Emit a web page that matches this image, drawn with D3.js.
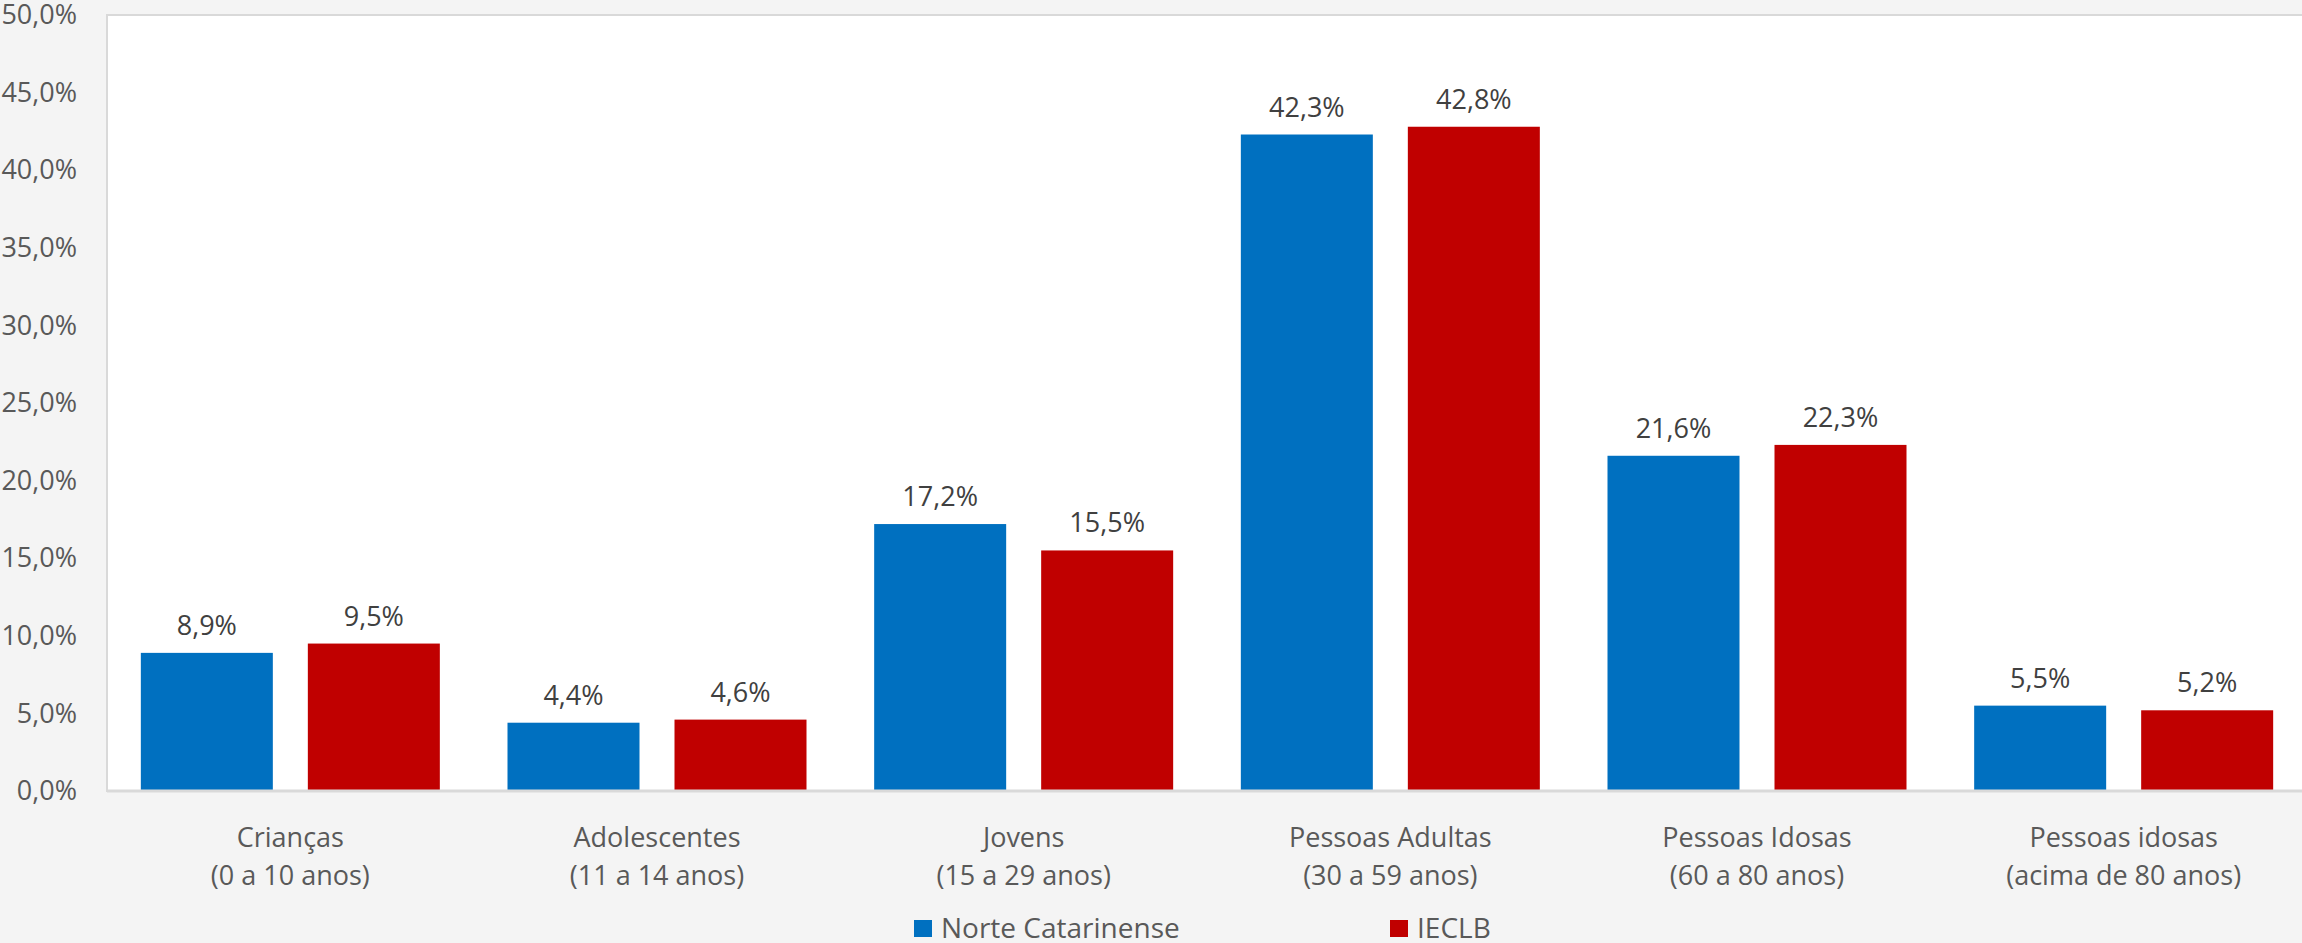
<!DOCTYPE html>
<html>
<head>
<meta charset="utf-8">
<script src="https://cdn.jsdelivr.net/npm/d3@7"></script>
<style>
  html, body { margin: 0; padding: 0; background: #f4f4f4; }
  svg { display: block; }
  text { font-family: "Open Sans", "Noto Sans", sans-serif; }
</style>
</head>
<body>
<svg id="chart" width="2302" height="943"></svg>
<script>
const categories = [
  ["Crianças", "(0 a 10 anos)"],
  ["Adolescentes", "(11 a 14 anos)"],
  ["Jovens", "(15 a 29 anos)"],
  ["Pessoas Adultas", "(30 a 59 anos)"],
  ["Pessoas Idosas", "(60 a 80 anos)"],
  ["Pessoas idosas", "(acima de 80 anos)"]
];
const seriesNames = ["Norte Catarinense", "IECLB"];
const norteCatarinense = [8.9, 4.4, 17.2, 42.3, 21.6, 5.5];
const ieclb = [9.5, 4.6, 15.5, 42.8, 22.3, 5.2];
const colors = ["#0070C0", "#C00000"];
const yTicks = [0, 5, 10, 15, 20, 25, 30, 35, 40, 45, 50];

const W = 2302, H = 943;
const m = { left: 107, right: -5, top: 15, bottom: 152 };
const svg = d3.select("#chart");
const fmt = v => d3.format(".1f")(v).replace(".", ",") + "%";

const x0 = d3.scaleBand().domain(d3.range(categories.length))
  .range([m.left, W - m.right]).paddingInner(0).paddingOuter(0);
const cw = x0.bandwidth();
const barW = 132, gap = 35;
const inner = (cw - (2 * barW + gap)) / 2;
const x1 = d3.scaleBand().domain([0, 1])
  .range([inner, cw - inner]).paddingInner(gap / (barW + gap)).paddingOuter(0);
const y = d3.scaleLinear().domain([0, 50]).range([H - m.bottom, m.top]);

// plot area
svg.append("rect")
  .attr("x", m.left).attr("y", m.top)
  .attr("width", W - m.right - m.left).attr("height", y(0) - m.top)
  .attr("fill", "#ffffff").attr("stroke", "#d9d9d9").attr("stroke-width", 2);

// y axis
const yAxis = d3.axisLeft(y).tickValues(yTicks).tickSize(0).tickPadding(0)
  .tickFormat(d => fmt(d));
const gy = svg.append("g").attr("transform", `translate(${m.left - 30},0)`).call(yAxis);
gy.select(".domain").remove();
gy.selectAll("text").attr("font-size", 27).attr("fill", "#595959")
  .attr("font-family", '"Open Sans", sans-serif');

// bars
const data = [norteCatarinense, ieclb];
const groups = svg.append("g").selectAll("g")
  .data(categories).join("g")
  .attr("transform", (d, i) => `translate(${x0(i)},0)`);

groups.each(function (c, i) {
  const g = d3.select(this);
  data.forEach((s, k) => {
    g.append("rect")
      .attr("x", x1(k)).attr("width", x1.bandwidth())
      .attr("y", y(s[i])).attr("height", y(0) - y(s[i]))
      .attr("fill", colors[k]);
    g.append("text")
      .attr("x", x1(k) + x1.bandwidth() / 2)
      .attr("y", y(s[i]) - 18)
      .attr("text-anchor", "middle")
      .attr("font-size", 27).attr("fill", "#404040")
      .text(fmt(s[i]));
  });
});

// baseline
svg.append("line")
  .attr("x1", m.left).attr("x2", W).attr("y1", y(0)).attr("y2", y(0))
  .attr("stroke", "#d9d9d9").attr("stroke-width", 3);

// x axis labels
const xAxis = d3.axisBottom(x0).tickSize(0).tickFormat("");
const gx = svg.append("g").attr("transform", `translate(0,${y(0)})`).call(xAxis);
gx.select(".domain").remove();
gx.selectAll(".tick").each(function (d) {
  const t = d3.select(this).append("text")
    .attr("text-anchor", "middle").attr("font-size", 27).attr("fill", "#595959");
  t.append("tspan").attr("x", 0).attr("y", 56).text(categories[d][0]);
  t.append("tspan").attr("x", 0).attr("y", 94).text(categories[d][1]);
});

// legend
const legendX = [914, 1390];
const lg = svg.append("g");
seriesNames.forEach((n, k) => {
  lg.append("rect").attr("x", legendX[k]).attr("y", 920)
    .attr("width", 18).attr("height", 17).attr("fill", colors[k]);
  lg.append("text").attr("x", legendX[k] + 27).attr("y", 938)
    .attr("font-size", 28).attr("fill", "#595959").text(n);
});
</script>
</body>
</html>
